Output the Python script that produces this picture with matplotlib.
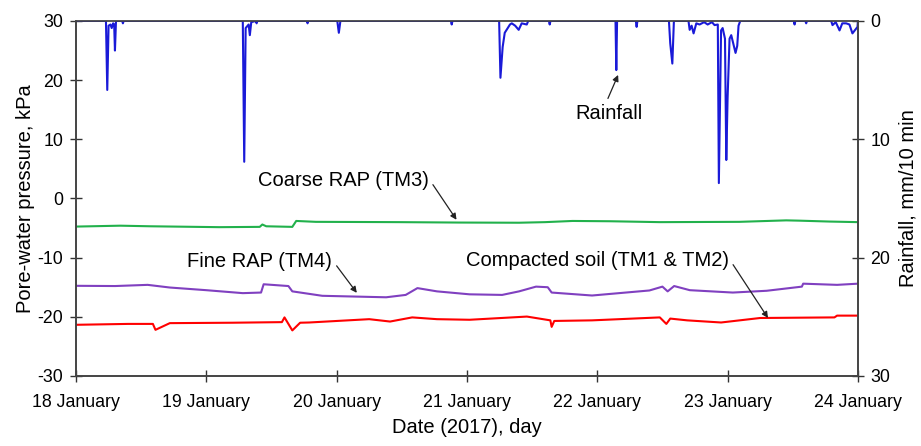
"""
Pore-water pressure and rainfall, 18-24 January 2017
"""

import matplotlib
matplotlib.use("Agg")
import matplotlib.pyplot as plt
import matplotlib.ticker as mticker

plt.rcParams["font.family"] = ["Liberation Sans", "DejaVu Sans"]
plt.rcParams["axes.unicode_minus"] = False

# ── Data (time in days after 18 January 00:00) ────────────────────────────────
tm3_t = [0.0, 0.34, 0.57, 1.10, 1.41, 1.43, 1.46, 1.66, 1.69, 1.84, 2.48, 2.94,
         3.40, 3.60, 3.81, 4.10, 4.48, 5.09, 5.45, 5.55, 5.78, 6.0]
tm3_p = [-4.75, -4.6, -4.7, -4.85, -4.8, -4.4, -4.7, -4.8, -3.8, -3.95, -4.0, -4.07,
         -4.1, -4.0, -3.8, -3.85, -4.0, -3.95, -3.7, -3.75, -3.9, -4.0]

tm4_t = [0.0, 0.30, 0.55, 0.72, 1.0, 1.28, 1.42, 1.44, 1.63, 1.66, 1.89, 2.38,
         2.53, 2.62, 2.77, 3.02, 3.27, 3.40, 3.53, 3.62, 3.65, 3.96, 4.40, 4.50,
         4.54, 4.59, 4.71, 5.04, 5.30, 5.57, 5.58, 5.84, 6.0]
tm4_p = [-14.76, -14.8, -14.6, -15.05, -15.5, -16.0, -15.9, -14.5, -14.8, -15.7,
         -16.45, -16.7, -16.3, -15.15, -15.7, -16.2, -16.3, -15.7, -14.9, -15.0,
         -15.9, -16.4, -15.55, -14.9, -15.7, -14.8, -15.5, -15.9, -15.6, -14.9,
         -14.4, -14.6, -14.4]

soil_t = [0.0, 0.40, 0.59, 0.61, 0.72, 1.2, 1.58, 1.60, 1.66, 1.72, 1.79, 2.25,
          2.41, 2.58, 2.77, 3.02, 3.46, 3.64, 3.65, 3.67, 3.96, 4.48, 4.53, 4.56,
          4.69, 4.95, 5.25, 5.82, 5.84, 6.0]
soil_p = [-21.35, -21.2, -21.2, -22.2, -21.07, -21.0, -20.9, -20.1, -22.3, -21.0,
          -20.96, -20.4, -20.8, -20.1, -20.4, -20.5, -19.96, -20.6, -21.7, -20.7,
          -20.6, -20.1, -21.2, -20.3, -20.6, -20.96, -20.2, -20.1, -19.8, -19.8]

rain_t = [0.0, 0.230, 0.240, 0.250, 0.265, 0.274, 0.285, 0.293, 0.299, 0.307,
          0.355, 0.360, 0.366, 1.280, 1.291, 1.302, 1.325, 1.334, 1.345, 1.380,
          1.386, 1.392, 1.771, 1.777, 1.783, 2.005, 2.017, 2.029, 2.877, 2.883,
          2.889, 3.247, 3.257, 3.274, 3.290, 3.313, 3.330, 3.344, 3.370, 3.397,
          3.420, 3.459, 3.470, 3.629, 3.635, 3.641, 4.140, 4.146, 4.152, 4.296,
          4.302, 4.308, 4.550, 4.560, 4.576, 4.588, 4.700, 4.709, 4.724, 4.739,
          4.760, 4.785, 4.820, 4.847, 4.880, 4.900, 4.925, 4.933, 4.950, 4.962,
          4.980, 4.990, 5.000, 5.015, 5.028, 5.061, 5.074, 5.084, 5.097, 5.508,
          5.514, 5.520, 5.597, 5.603, 5.609, 5.795, 5.805, 5.830, 5.859, 5.880,
          5.910, 5.935, 5.958, 5.997, 6.0]
rain_mm = [0.0, 0.0, 5.83, 0.4, 0.3, 0.6, 0.2, 0.3, 2.5, 0.0,
           0.0, 0.2, 0.0, 0.0, 11.9, 0.6, 0.3, 1.2, 0.1, 0.0,
           0.2, 0.0, 0.0, 0.2, 0.0, 0.0, 1.0, 0.0, 0.0, 0.3,
           0.0, 0.0, 4.8, 2.2, 1.0, 0.6, 0.3, 0.2, 0.4, 0.75,
           0.2, 0.3, 0.0, 0.0, 0.3, 0.0, 0.0, 4.15, 0.0, 0.0,
           0.5, 0.0, 0.0, 1.9, 3.6, 0.0, 0.0, 0.75, 0.4, 1.05,
           0.2, 0.3, 0.1, 0.3, 0.1, 0.35, 0.3, 13.7, 0.8, 0.6,
           1.5, 11.75, 6.5, 1.5, 1.2, 2.7, 2.1, 0.4, 0.0, 0.0,
           0.3, 0.0, 0.0, 0.2, 0.0, 0.0, 0.35, 0.1, 0.8, 0.2,
           0.2, 0.3, 1.05, 0.5, 0.0]

day_labels = ["18 January", "19 January", "20 January", "21 January",
              "22 January", "23 January", "24 January"]

# ── Figure ────────────────────────────────────────────────────────────────────
fig = plt.figure(figsize=(9.21, 4.46), dpi=100)
ax = fig.add_axes([0.0825, 0.157, 0.849, 0.796])
ax2 = ax.twinx()

ax.plot(tm3_t, tm3_p, color="#22b14c", lw=1.5)
ax.plot(tm4_t, tm4_p, color="#8040c0", lw=1.5)
ax.plot(soil_t, soil_p, color="#ff0000", lw=1.5)
ax2.plot(rain_t, rain_mm, color="#1a1ad8", lw=1.5)

ax.set_xlim(0, 6)
ax.set_ylim(-30, 30)
ax2.set_ylim(30, 0)

ax.set_xticks(range(len(day_labels)))
ax.set_xticklabels(day_labels)
ax.yaxis.set_major_locator(mticker.MultipleLocator(10))
ax2.yaxis.set_major_locator(mticker.MultipleLocator(10))

for a in (ax, ax2):
    a.tick_params(direction="inout", length=8, width=1, labelsize=12.8,
                  colors="#333333", labelcolor="black", pad=5)
    for s in a.spines.values():
        s.set_color("#444444")
        s.set_linewidth(1.2)
ax.spines["top"].set_color("#aaaaaa")
ax.tick_params(axis="x", pad=9)

ax.set_xlabel("Date (2017), day", fontsize=14.5, labelpad=5)
ax.set_ylabel("Pore-water pressure, kPa", fontsize=14.5, labelpad=2)
ax2.set_ylabel("Rainfall, mm/10 min", fontsize=14.5, labelpad=6)

arrow = dict(arrowstyle="-|>", color="#222222", lw=0.9, mutation_scale=9,
             shrinkA=2, shrinkB=0)

ax.annotate("Coarse RAP (TM3)", xy=(2.92, -3.6), xytext=(2.05, 3.1),
            ha="center", va="center", fontsize=14.5,
            arrowprops=dict(arrow, relpos=(1.0, 0.6)))
ax.annotate("Fine RAP (TM4)", xy=(2.155, -15.95), xytext=(1.41, -10.7),
            ha="center", va="center", fontsize=14.5,
            arrowprops=dict(arrow, relpos=(1.0, 0.6)))
ax.annotate("Compacted soil (TM1 & TM2)", xy=(5.31, -20.2), xytext=(4.0, -10.4),
            ha="center", va="center", fontsize=14.5,
            arrowprops=dict(arrow, relpos=(1.0, 0.6)))
ax2.annotate("Rainfall", xy=(4.16, 4.56), xytext=(4.09, 7.8),
             ha="center", va="center", fontsize=14.5,
             arrowprops=dict(arrow, relpos=(0.45, 1.0)))

fig.savefig("out.png", dpi=100)
